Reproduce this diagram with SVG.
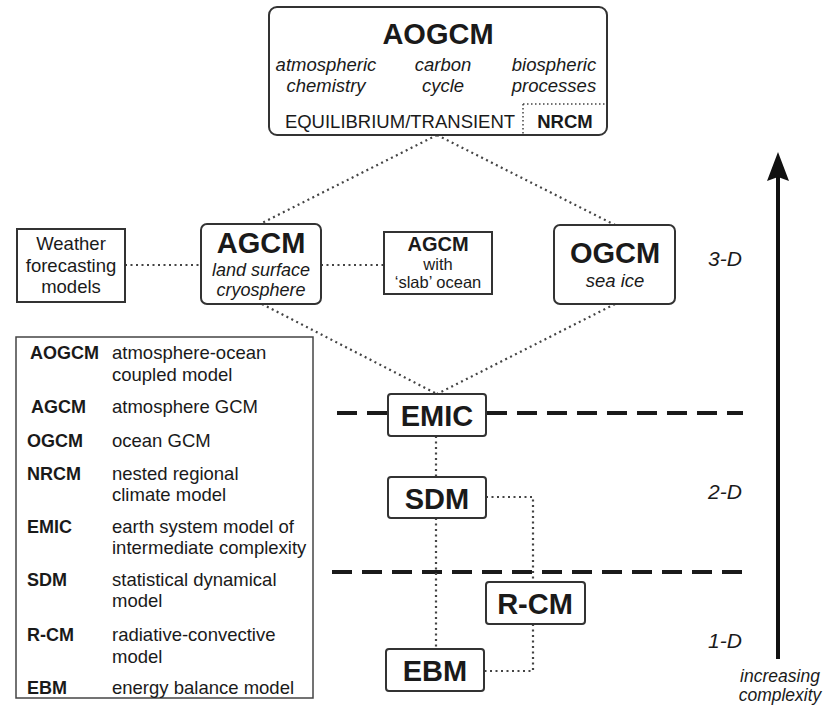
<svg xmlns="http://www.w3.org/2000/svg" width="830" height="706" viewBox="0 0 830 706">
<style>
.box{fill:#fff;stroke:#333;stroke-width:2}
.dot{fill:none;stroke:#444;stroke-width:2.2;stroke-dasharray:2 3.5}
.dash{fill:none;stroke:#1a1a1a;stroke-width:4;stroke-dasharray:20 10}
text{font-family:"Liberation Sans",Arial,sans-serif;fill:#1a1a1a}
.b{font-weight:bold}
.i{font-style:italic}
.m{text-anchor:middle}
.big{font-size:29px;font-weight:bold}
.it{font-size:18.5px;font-style:italic}
.rg{font-size:18.5px}
.lg{font-size:18px;font-weight:bold}
</style>
<rect width="830" height="706" fill="#fff"/>

<g id="levels">
<line class="dash" x1="337" y1="413" x2="743" y2="413"/>
<line class="dash" x1="332" y1="572" x2="743" y2="572"/>
</g>

<g id="connectors">
<path class="dot" d="M437,135 L260,224"/>
<path class="dot" d="M437,135 L615,225"/>
<path class="dot" d="M262,304 L437,394"/>
<path class="dot" d="M615,304 L437,394"/>
<path class="dot" d="M125,265 L201,265"/>
<path class="dot" d="M321,265 L384,265"/>
<path class="dot" d="M436,436 L436,477"/>
<path class="dot" d="M436,518 L436,649"/>
<path class="dot" d="M486,497 L533,497 L533,582"/>
<path class="dot" d="M533,624 L533,671 L484,671"/>
</g>

<g id="aogcm">
<rect class="box" x="269" y="7" width="338" height="128" rx="8"/>
<text class="m" x="438" y="44" style="font-size:29px;font-weight:bold">AOGCM</text>
<text class="m it" x="326" y="71">atmospheric</text>
<text class="m it" x="326" y="92">chemistry</text>
<text class="m it" x="443" y="71">carbon</text>
<text class="m it" x="443" y="92">cycle</text>
<text class="m it" x="554" y="71">biospheric</text>
<text class="m it" x="554" y="92">processes</text>
<path class="dot" d="M523,104 L607,104 M523,104 L523,135" style="stroke-dasharray:1.5 2.5;stroke-width:1.5"/>
<text class="m" x="400" y="128" style="font-size:18.5px">EQUILIBRIUM/TRANSIENT</text>
<text class="m b" x="565" y="128" style="font-size:18.5px">NRCM</text>
</g>

<g id="weather">
<rect class="box" x="17" y="229" width="108" height="73"/>
<text class="m rg" x="71" y="250">Weather</text>
<text class="m rg" x="71" y="272">forecasting</text>
<text class="m rg" x="71" y="293">models</text>
</g>

<g id="agcm">
<rect class="box" x="201" y="224" width="120" height="80" rx="6"/>
<text class="m big" x="261" y="253">AGCM</text>
<text class="m" x="261" y="276" style="font-size:18px;font-style:italic">land surface</text>
<text class="m" x="261" y="296" style="font-size:18px;font-style:italic">cryosphere</text>
</g>

<g id="agcm-slab">
<rect class="box" x="384" y="232" width="108" height="62"/>
<text class="m b" x="438" y="251" style="font-size:20px">AGCM</text>
<text class="m" x="438" y="270" style="font-size:16.5px">with</text>
<text class="m" x="438" y="288" style="font-size:16.5px">‘slab’ ocean</text>
</g>

<g id="ogcm">
<rect class="box" x="554" y="225" width="121" height="79" rx="6"/>
<text class="m big" x="615" y="263">OGCM</text>
<text class="m it" x="615" y="287">sea ice</text>
</g>

<g id="emic">
<rect class="box" x="388" y="394" width="98" height="42" rx="3"/>
<text class="m big" x="437" y="426">EMIC</text>
</g>

<g id="sdm">
<rect class="box" x="388" y="477" width="98" height="41" rx="3"/>
<text class="m big" x="437" y="509">SDM</text>
</g>

<g id="rcm">
<rect class="box" x="486" y="582" width="99" height="42" rx="3"/>
<text class="m big" x="535" y="614">R-CM</text>
</g>

<g id="ebm">
<rect class="box" x="386" y="649" width="98" height="42" rx="3"/>
<text class="m big" x="435" y="681">EBM</text>
</g>

<g id="dims">
<text class="m" x="725" y="266" style="font-size:21px;font-style:italic">3-D</text>
<text class="m" x="725" y="499" style="font-size:21px;font-style:italic">2-D</text>
<text class="m" x="725" y="648" style="font-size:21px;font-style:italic">1-D</text>
</g>

<g id="complexity-axis">
<line x1="778" y1="176" x2="778" y2="659" stroke="#111" stroke-width="4"/>
<path d="M778,152 L789,181 L778,177 L767,181 Z" fill="#111"/>
<text class="m" x="780" y="682" style="font-size:17.5px;font-style:italic">increasing</text>
<text class="m" x="780" y="701" style="font-size:17.5px;font-style:italic">complexity</text>
</g>

<g id="legend">
<rect x="16" y="337" width="297" height="361" fill="#fff" stroke="#444" stroke-width="1.5"/>
<text class="lg" x="30" y="359">AOGCM</text>
<text class="rg" x="112" y="359">atmosphere-ocean</text>
<text class="rg" x="112" y="381">coupled model</text>
<text class="lg" x="31" y="413">AGCM</text>
<text class="rg" x="112" y="413">atmosphere GCM</text>
<text class="lg" x="27" y="447">OGCM</text>
<text class="rg" x="112" y="447">ocean GCM</text>
<text class="lg" x="27" y="480">NRCM</text>
<text class="rg" x="112" y="480">nested regional</text>
<text class="rg" x="112" y="501">climate model</text>
<text class="lg" x="27" y="533">EMIC</text>
<text class="rg" x="112" y="533">earth system model of</text>
<text class="rg" x="112" y="554">intermediate complexity</text>
<text class="lg" x="27" y="586">SDM</text>
<text class="rg" x="112" y="586">statistical dynamical</text>
<text class="rg" x="112" y="607">model</text>
<text class="lg" x="27" y="641">R-CM</text>
<text class="rg" x="112" y="641">radiative-convective</text>
<text class="rg" x="112" y="663">model</text>
<text class="lg" x="27" y="694">EBM</text>
<text class="rg" x="112" y="694">energy balance model</text>
</g>
</svg>
